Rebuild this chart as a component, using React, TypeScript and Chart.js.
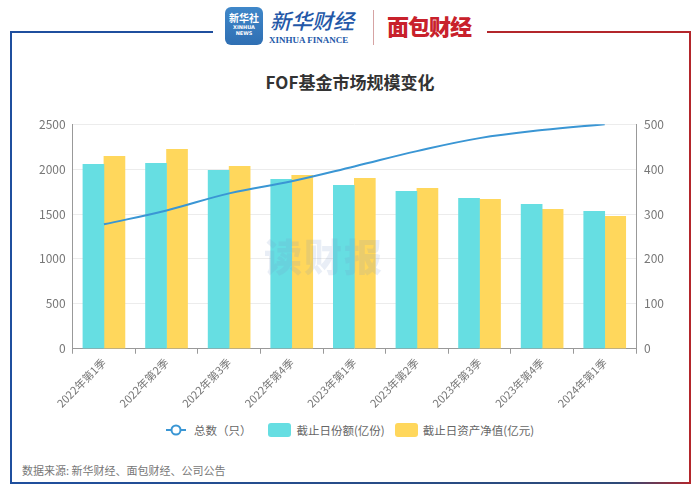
import React, { useEffect, useRef } from "react";
import { Chart, registerables } from "chart.js";

Chart.register(...registerables);

const categories = [
  "2022年第1季", "2022年第2季", "2022年第3季", "2022年第4季",
  "2023年第1季", "2023年第2季", "2023年第3季", "2023年第4季", "2024年第1季",
];
const totalCount = [277, 308, 346, 373, 406, 440, 469, 487, 500];
const shares = [2054, 2065, 1987, 1886, 1819, 1752, 1674, 1607, 1529];
const netAssets = [2143, 2221, 2031, 1931, 1897, 1786, 1663, 1551, 1473];
const leftTicks = [0, 500, 1000, 1500, 2000, 2500];
const rightTicks = [0, 100, 200, 300, 400, 500];

const FONT = '"Noto Sans CJK SC", "Noto Sans", sans-serif';
const CYAN = "rgb(102,222,226)";
const YELLOW = "rgb(255,215,92)";
const LINE = "rgb(58,150,212)";

export default function App() {
  const ref = useRef<HTMLCanvasElement | null>(null);

  useEffect(() => {
    document.body.style.margin = "0";
    const ctx = ref.current!.getContext("2d")!;
    const chart = new Chart(ctx, {
      data: {
        labels: categories,
        datasets: [
          {
            type: "line",
            label: "总数（只）",
            data: totalCount,
            yAxisID: "y1",
            borderColor: LINE,
            backgroundColor: LINE,
            borderWidth: 2,
            pointRadius: 0,
            tension: 0.4,
            order: 0,
          } as any,
          {
            type: "bar",
            label: "截止日份额(亿份)",
            data: shares,
            yAxisID: "y",
            backgroundColor: CYAN,
            barThickness: 21,
            categoryPercentage: 0.8,
            order: 1,
          },
          {
            type: "bar",
            label: "截止日资产净值(亿元)",
            data: netAssets,
            yAxisID: "y",
            backgroundColor: YELLOW,
            barThickness: 21,
            categoryPercentage: 0.8,
            order: 1,
          },
        ],
      },
      options: {
        animation: false,
        responsive: false,
        maintainAspectRatio: false,
        layout: { padding: { left: 0, right: 0, top: 0, bottom: 0 } },
        plugins: { legend: { display: false }, tooltip: { enabled: false } },
        scales: {
          x: {
            offset: true,
            grid: {
              display: true,
              drawOnChartArea: false,
              offset: true,
              color: "#999",
              tickLength: 5,
            },
            border: { color: "#999" },
            ticks: {
              color: "#777",
              font: { family: FONT, size: 11 },
              maxRotation: 45,
              minRotation: 45,
              padding: 2,
              autoSkip: false,
            },
          },
          y: {
            position: "left",
            min: 0,
            max: 2500,
            afterBuildTicks: (axis: any) => {
              axis.ticks = leftTicks.map((v) => ({ value: v }));
            },
            grid: { color: "#ececec", drawTicks: false },
            border: { color: "#999" },
            ticks: {
              color: "#777",
              font: { family: FONT, size: 12 },
              padding: 7,
              callback: (v: any) => String(v),
            },
          },
          y1: {
            position: "right",
            min: 0,
            max: 500,
            afterBuildTicks: (axis: any) => {
              axis.ticks = rightTicks.map((v) => ({ value: v }));
            },
            grid: { drawOnChartArea: false, drawTicks: false },
            border: { color: "#999" },
            ticks: {
              color: "#777",
              font: { family: FONT, size: 12 },
              padding: 8,
              callback: (v: any) => String(v),
            },
          },
        },
      },
    });
    return () => chart.destroy();
  }, []);

  const legendText: React.CSSProperties = {
    fontFamily: FONT,
    fontSize: 11.5,
    color: "#666",
  };

  return (
    <div
      style={{
        position: "fixed",
        left: 0,
        top: 0,
        width: 700,
        height: 495,
        background: "#fff",
        overflow: "hidden",
        fontFamily: FONT,
      }}
    >
      {/* frame */}
      <div style={{ position: "absolute", left: 10, top: 31, width: 203, height: 2, background: "#1f4f9e" }} />
      <div style={{ position: "absolute", left: 487, top: 31, width: 204, height: 2, background: "#b3262b" }} />
      <div style={{ position: "absolute", left: 10, top: 31, width: 2, height: 453, background: "#1f4f9e" }} />
      <div style={{ position: "absolute", left: 689, top: 31, width: 2, height: 453, background: "#b3262b" }} />
      <div
        style={{
          position: "absolute",
          left: 10,
          top: 482,
          width: 681,
          height: 2,
          background: "linear-gradient(to right, #1f4f9e 0%, #2d4a78 90%, #b3262b 100%)",
        }}
      />

      {/* logos */}
      <div
        style={{
          position: "absolute",
          left: 225,
          top: 7,
          width: 38,
          height: 38,
          borderRadius: 6,
          background: "linear-gradient(#3f87c9, #2f6fb3)",
          color: "#fff",
          fontSize: 10,
          fontWeight: 700,
          textAlign: "center",
          lineHeight: "12px",
          paddingTop: 5,
          boxSizing: "border-box",
        }}
      >
        新华社
        <div style={{ fontSize: 5, lineHeight: "6px", fontFamily: "DejaVu Sans" }}>XINHUA NEWS</div>
      </div>
      <div
        style={{
          position: "absolute",
          left: 270,
          top: 5,
          fontSize: 21,
          fontStyle: "italic",
          fontWeight: 500,
          color: "#2358a8",
          lineHeight: "30px",
        }}
      >
        新华财经
      </div>
      <div
        style={{
          position: "absolute",
          left: 269,
          top: 35,
          fontSize: 9,
          fontFamily: '"Liberation Serif", serif',
          fontWeight: 700,
          color: "#2358a8",
          lineHeight: "11px",
        }}
      >
        XINHUA FINANCE
      </div>
      <div style={{ position: "absolute", left: 373, top: 10, width: 1, height: 35, background: "#d6a3a3" }} />
      <div
        style={{
          position: "absolute",
          left: 387,
          top: 10,
          fontSize: 22,
          fontWeight: 900,
          color: "#c8212b",
          lineHeight: "30px",
          letterSpacing: -1,
        }}
      >
        面包财经
      </div>

      {/* title */}
      <div
        style={{
          position: "absolute",
          left: 0,
          top: 70,
          width: 700,
          textAlign: "center",
          fontSize: 17,
          fontWeight: 700,
          color: "#333",
          lineHeight: "24px",
        }}
      >
        FOF基金市场规模变化
      </div>

      {/* chart */}
      <canvas
        ref={ref}
        width={640}
        height={303}
        style={{ position: "absolute", left: 32, top: 109, width: 640, height: 303 }}
      />

      {/* watermark */}
      <div
        style={{
          position: "absolute",
          left: 264,
          top: 232,
          fontSize: 38,
          fontWeight: 900,
          color: "rgba(120,150,200,0.16)",
          letterSpacing: 2,
          pointerEvents: "none",
          lineHeight: "46px",
        }}
      >
        读财报
      </div>

      {/* legend */}
      <div
        style={{
          position: "absolute",
          left: 0,
          top: 421,
          width: 700,
          height: 18,
          display: "flex",
          justifyContent: "center",
          alignItems: "center",
        }}
      >
        <svg width="20" height="12" style={{ display: "block", marginRight: 8 }}>
          <line x1="0" y1="6" x2="20" y2="6" stroke={LINE} strokeWidth="2" />
          <circle cx="10" cy="6" r="4.5" fill="#fff" stroke={LINE} strokeWidth="2" />
        </svg>
        <span style={legendText}>总数（只）</span>
        <div style={{ width: 23, height: 14, borderRadius: 3, background: CYAN, marginLeft: 17, marginRight: 5 }} />
        <span style={legendText}>截止日份额(亿份)</span>
        <div style={{ width: 23, height: 14, borderRadius: 3, background: YELLOW, marginLeft: 10, marginRight: 5 }} />
        <span style={legendText}>截止日资产净值(亿元)</span>
      </div>

      {/* source */}
      <div
        style={{
          position: "absolute",
          left: 22,
          top: 462,
          fontSize: 11,
          color: "#777",
          lineHeight: "16px",
        }}
      >
        数据来源: 新华财经、面包财经、公司公告
      </div>
    </div>
  );
}
